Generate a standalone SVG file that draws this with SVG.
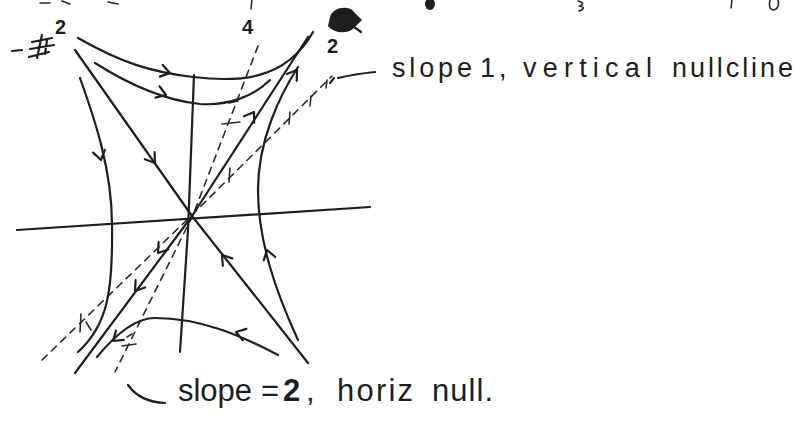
<svg xmlns="http://www.w3.org/2000/svg" xmlns:xlink="http://www.w3.org/1999/xlink" width="803" height="427" viewBox="0 0 803 427">
<style>
  .ink{fill:none;stroke:#1e1e1e;stroke-width:2.2;stroke-linecap:round;stroke-linejoin:round}
  .dash{fill:none;stroke:#2a2a2a;stroke-width:1.6;stroke-dasharray:7 6;stroke-linecap:round}
  .tick{fill:none;stroke:#2a2a2a;stroke-width:1.6;stroke-linecap:round}
  .hand{font-family:"Liberation Sans","DejaVu Sans",sans-serif;fill:#1e1e1e}
  .lbl{font-family:"Liberation Sans","DejaVu Sans",sans-serif;fill:#1e1e1e;font-weight:bold}
  .blob{fill:#1e1e1e}
</style>
<defs>
  <path id="chev" d="M-9,-6 L0,0 L-9,6" fill="none" stroke="#1e1e1e" stroke-width="2.2" stroke-linecap="round" stroke-linejoin="round"/>
</defs>
<rect width="803" height="427" fill="#ffffff"/>

<g id="cropped-marks">
  <path class="tick" d="M252,0 L251,9"/>
  <ellipse class="blob" cx="430" cy="4" rx="5" ry="6"/>
  <path class="tick" d="M578,1 Q586,3 580,6 Q587,8 579,11"/>
  <path class="tick" d="M732,0 L731,8 M770,0 Q768,10 774,10 Q780,8 778,0"/>
  <path class="tick" d="M40,3 L50,3 M62,1 L70,4 M108,2 L118,4"/>
</g>

<g id="axes">
  <path class="ink" d="M17,230 L370,207"/>
  <path class="ink" d="M194,75 L188,230 L180,352"/>
</g>

<g id="nullclines">
  <path id="vertical-nullcline" class="dash" d="M42,360 L192,215 L332,76"/>
  <path id="horizontal-nullcline" class="dash" d="M258,46 L193,215 L115,372"/>
  <g id="nullcline-ticks">
    <path class="tick" d="M222,124 L240,122 M229,103 L238,101 M122,346 L136,344 M127,337 L132,334"/>
    <path class="tick" d="M230,168 L229,182 M290,112 L289,124 M311,96 L310,106 M327,80 L326,88 M81,314 L80,332 M86,322 L91,330"/>
  </g>
</g>

<g id="connectors">
  <path id="traj-top-1" class="ink" d="M78,38 C120,62 150,72 193,77 C236,82 285,82 313,32"/>
  <path id="traj-top-2" class="ink" d="M95,63 C125,82 160,100 200,104 C230,106 255,95 270,80"/>
  <path id="stable-manifold" class="ink" d="M75,50 L192,216 L308,363"/>
  <path id="unstable-manifold" class="ink" d="M75,373 L192,216 L308,37"/>
  <path id="traj-right" class="ink" d="M298,67 C280,95 258,140 258,190 C258,240 275,290 298,340"/>
  <path id="traj-left" class="ink" d="M80,78 C95,120 112,170 112,225 C113,290 108,325 78,352"/>
  <path id="traj-bottom" class="ink" d="M278,355 C240,335 200,318 155,318 C135,318 115,335 97,357"/>
</g>

<g id="arrows">
  <use xlink:href="#chev" transform="translate(170,73) rotate(14)"/>
  <use xlink:href="#chev" transform="translate(166,95) rotate(20)"/>
  <use xlink:href="#chev" transform="translate(155,163) rotate(54)"/>
  <use xlink:href="#chev" transform="translate(101,160) rotate(77)"/>
  <use xlink:href="#chev" transform="translate(254,112) rotate(-57)"/>
  <use xlink:href="#chev" transform="translate(297,70) rotate(-55)"/>
  <use xlink:href="#chev" transform="translate(222,255) rotate(-128)"/>
  <use xlink:href="#chev" transform="translate(267,250) rotate(-106)"/>
  <use xlink:href="#chev" transform="translate(236,332) rotate(-163)"/>
  <use xlink:href="#chev" transform="translate(158,253) rotate(127)"/>
  <use xlink:href="#chev" transform="translate(135,291) rotate(127)"/>
  <use xlink:href="#chev" transform="translate(113,341) rotate(140)"/>
</g>

<g id="label-neg2">
  <path class="ink" d="M12,51 L22,50"/>
  <path class="ink" stroke-width="3" d="M32,42 L52,38 M30,49 L54,45 M42,35 L37,58 M29,57 L49,52 M47,40 L45,54"/>
  <text class="lbl" x="55" y="34" font-size="20">2</text>
</g>

<g id="label-4">
  <text class="lbl" x="242" y="34" font-size="20">4</text>
</g>

<g id="label-2">
  <path class="blob" d="M330,17 C333,7 349,5 354,12 L362,20 L354,28 C347,35 334,33 328,26 Z"/>
  <path class="ink" d="M350,24 L361,32"/>
  <text class="lbl" x="327" y="53" font-size="20">2</text>
</g>

<g id="label-vertical-nullcline">
  <path class="ink" stroke-width="1.6" d="M330,83 L334,78 M338,78 Q355,74 375,72"/>
  <text class="hand" y="77" font-size="27">
    <tspan x="392" textLength="80" lengthAdjust="spacing">slope</tspan>
    <tspan x="480">1</tspan>
    <tspan x="499">,</tspan>
    <tspan x="523" textLength="129" lengthAdjust="spacing">vertical</tspan>
    <tspan x="672" textLength="121" lengthAdjust="spacing">nullcline</tspan>
  </text>
</g>

<g id="label-horizontal-nullcline">
  <path class="ink" stroke-width="1.8" d="M128,385 Q140,402 165,403"/>
  <text class="hand" y="401" font-size="31">
    <tspan x="178" textLength="74" lengthAdjust="spacing">slope</tspan>
    <tspan x="261">=</tspan>
    <tspan x="283" font-weight="bold">2</tspan>
    <tspan x="306">,</tspan>
    <tspan x="337" textLength="76" lengthAdjust="spacing">horiz</tspan>
    <tspan x="432" textLength="61" lengthAdjust="spacing">null.</tspan>
  </text>
</g>
</svg>
